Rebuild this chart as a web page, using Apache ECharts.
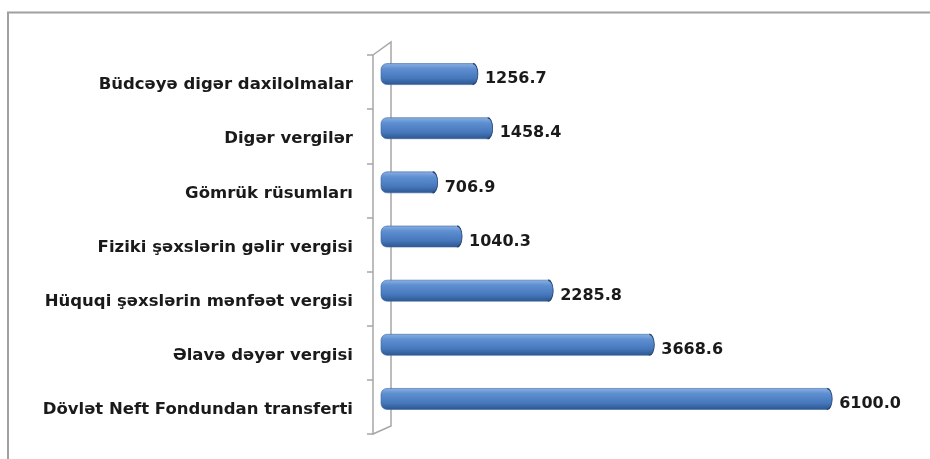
<!DOCTYPE html>
<html>
<head>
<meta charset="utf-8">
<script src="https://cdn.jsdelivr.net/npm/echarts@6/dist/echarts.min.js"></script>
<style>
  html, body { margin: 0; padding: 0; background: #fff; }
  #chart { width: 930px; height: 459px; }
</style>
</head>
<body>
<div id="chart"></div>
<script>
// bottom to top, as the category axis draws them
var categories = [
  'Dövlət Neft Fondundan transferti',
  'Əlavə dəyər vergisi',
  'Hüquqi şəxslərin mənfəət vergisi',
  'Fiziki şəxslərin gəlir vergisi',
  'Gömrük rüsumları',
  'Digər vergilər',
  'Büdcəyə digər daxilolmalar'
];
var values = [6100.0, 3668.6, 2285.8, 1040.3, 706.9, 1458.4, 1256.7];

var axisMax = 7000;

// plot box (bars sit on the back wall, labels/ticks on the front edge)
var backTop = 47, backBottom = 33, backLeft = 381, backRight = 37;
var frontTop = 55, frontBottom = 25, frontLeft = 373;
var labelShift = 3;
var barH = 21, capRx = 5;

function barGrad() {
  return new echarts.graphic.LinearGradient(0, 0, 0, 1, [
    { offset: 0, color: '#8cb1e3' },
    { offset: 0.25, color: '#5e8fd1' },
    { offset: 0.7, color: '#4677bb' },
    { offset: 1, color: '#2c568e' }
  ]);
}

// cylinder: body + round end cap + value label
function renderCylinder(params, api) {
  var idx = api.value(0);
  var val = api.value(1);
  var p0 = api.coord([0, idx]);
  var p1 = api.coord([val, idx]);
  var y = p0[1] - barH / 2;
  var r = barH / 2;
  return {
    type: 'group',
    children: [
      {
        type: 'rect',
        shape: { x: p0[0], y: y, width: p1[0] - p0[0], height: barH, r: [6, 0, 0, 6] },
        style: { fill: barGrad(), stroke: '#3a659f', lineWidth: 0.6 }
      },
      {
        type: 'ellipse',
        shape: { cx: p1[0], cy: p1[1], rx: capRx, ry: r },
        style: { fill: barGrad() }
      },
      {
        type: 'arc',
        x: p1[0], y: p1[1],
        scaleX: capRx / r,
        shape: { cx: 0, cy: 0, r: r, startAngle: -Math.PI / 2, endAngle: Math.PI / 2 },
        style: { stroke: '#22426f', lineWidth: 1.6, fill: null, strokeNoScale: true }
      },
      {
        type: 'text',
        x: p1[0] + capRx + 7,
        y: p1[1] + 5,
        style: {
          text: val.toFixed(1),
          fill: '#1a1a1a',
          font: 'bold 16px "DejaVu Sans"',
          verticalAlign: 'middle',
          align: 'left'
        }
      }
    ]
  };
}

var chart = echarts.init(document.getElementById('chart'));
var W = 930, H = 459;

var option = {
  backgroundColor: '#fff',
  animation: false,
  grid: [
    { left: backLeft, right: backRight, top: backTop, bottom: backBottom },
    { left: frontLeft, right: backRight, top: frontTop, bottom: frontBottom },
    { left: frontLeft, right: backRight, top: frontTop + labelShift, bottom: frontBottom - labelShift }
  ],
  xAxis: [
    { gridIndex: 0, type: 'value', min: 0, max: axisMax, show: false },
    { gridIndex: 1, type: 'value', min: 0, max: axisMax, show: false },
    { gridIndex: 2, type: 'value', min: 0, max: axisMax, show: false }
  ],
  yAxis: [
    {
      gridIndex: 0, type: 'category', data: categories, show: false
    },
    {
      // front edge: line + ticks
      gridIndex: 1, type: 'category', data: categories,
      axisLine: { show: true, lineStyle: { color: '#a6a6a6', width: 1.5 } },
      axisTick: { show: true, length: 6, inside: false, lineStyle: { color: '#a6a6a6', width: 1.5 } },
      axisLabel: { show: false },
      splitLine: { show: false }
    },
    {
      // category names
      gridIndex: 2, type: 'category', data: categories,
      axisLine: { show: false },
      axisTick: { show: false },
      axisLabel: {
        margin: 20,
        color: '#1a1a1a',
        fontFamily: 'DejaVu Sans',
        fontWeight: 'bold',
        fontSize: 16.5
      },
      splitLine: { show: false }
    }
  ],
  series: [
    {
      type: 'custom',
      xAxisIndex: 0, yAxisIndex: 0,
      data: values.map(function (v, i) { return [i, v]; }),
      encode: { x: 1, y: 0 },
      renderItem: renderCylinder,
      z: 3
    }
  ],
  graphic: [
    // outer frame (top + left only visible)
    {
      type: 'polyline',
      shape: { points: [[8, H], [8, 12.5], [W, 12.5]] },
      style: { stroke: '#a0a0a0', lineWidth: 2, fill: null }
    },
    // 3D wall: back edge and the two diagonals
    {
      type: 'polyline',
      shape: {
        points: [
          [frontLeft, frontTop],
          [frontLeft + 18, frontTop - 13],
          [frontLeft + 18, H - frontBottom - 8],
          [frontLeft, H - frontBottom]
        ]
      },
      style: { stroke: '#a6a6a6', lineWidth: 1.5, fill: null }
    }
  ]
};

chart.setOption(option);
</script>
</body>
</html>
